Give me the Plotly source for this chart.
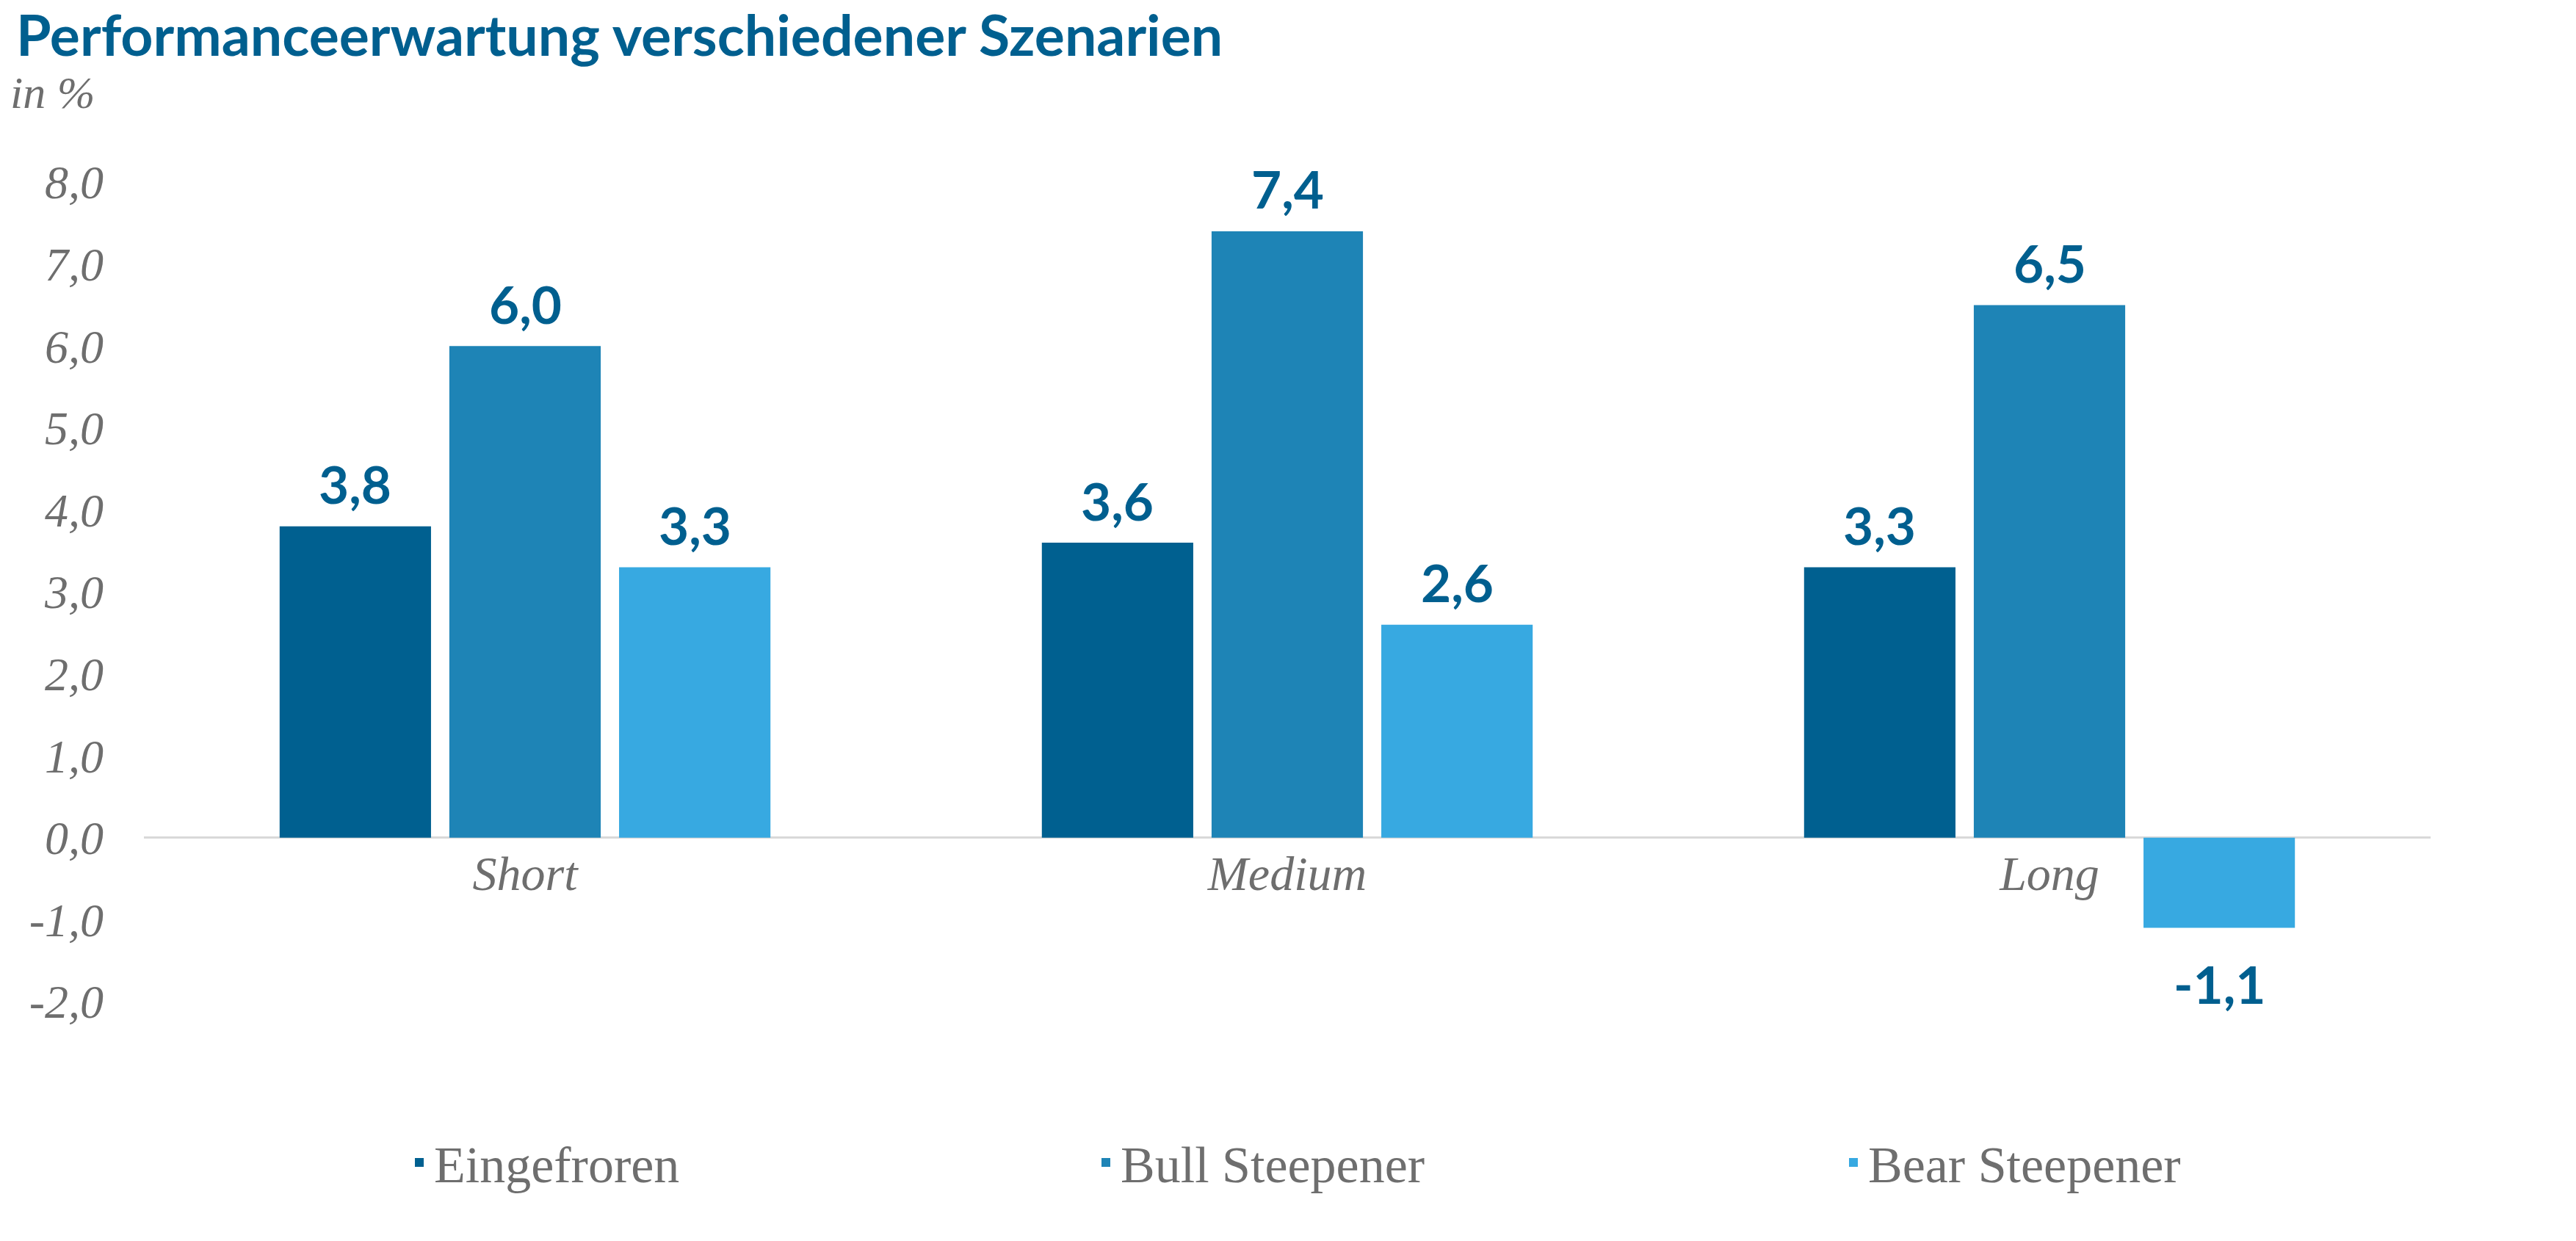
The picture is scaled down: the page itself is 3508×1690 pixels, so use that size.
import plotly.graph_objects as go

categories = ["Short", "Medium", "Long"]
series_names = ["Eingefroren", "Bull Steepener", "Bear Steepener"]
eingefroren = [3.8, 3.6, 3.3]
bull_steepener = [6.0, 7.4, 6.5]
bear_steepener = [3.3, 2.6, -1.1]
series_values = [eingefroren, bull_steepener, bear_steepener]
colors = ["#006090", "#1E84B6", "#37A9E1"]
tick_vals = [-2, -1, 0, 1, 2, 3, 4, 5, 6, 7, 8]
tick_text = ["-2,0", "-1,0", "0,0", "1,0", "2,0", "3,0", "4,0", "5,0", "6,0", "7,0", "8,0"]
title_text = "Performanceerwartung verschiedener Szenarien"
unit_text = "in %"

W, H = 3508, 1690
ML, MR, MT, MB = 188, 206, 240, 334
Y_MIN, Y_MAX = -2, 8
BARGAP = 0.332
PW, PH = W - ML - MR, H - MT - MB

SERIF = "Liberation Serif, DejaVu Serif, serif"
SANS = "Lato, Open Sans, sans-serif"
GRAY = "#6E6E6E"
LABEL_BLUE = "#005F8F"

legend_ids = ["legend", "legend2", "legend3"]
legend_x_px = [543, 1478, 2496]

fig = go.Figure()
for name, vals, col, lg in zip(series_names, series_values, colors, legend_ids):
    fig.add_trace(go.Bar(name=name, x=categories, y=vals, legend=lg,
                         marker=dict(color=col, line=dict(width=0))))

# value labels
slot = (1 - BARGAP) / len(series_values)
annotations = []
for j, vals in enumerate(series_values):
    for i, v in enumerate(vals):
        annotations.append(dict(
            x=i + (j - (len(series_values) - 1) / 2) * slot, y=v, xref="x", yref="y",
            text=f"{v:.1f}".replace(".", ","), showarrow=False,
            yanchor="middle", yshift=58 if v >= 0 else -76,
            font=dict(family=SANS, size=71, color=LABEL_BLUE, weight="bold"),
        ))

# unit label
annotations.append(dict(
    x=(4 - ML) / PW, y=1 + (MT - 118) / PH, xref="paper", yref="paper",
    text=f"<i>{unit_text}</i>", showarrow=False, xanchor="left", yanchor="middle",
    font=dict(family=SERIF, size=62, color=GRAY),
))

legend_common = dict(
    orientation="h", xanchor="left",
    y=-(1575 - (H - MB)) / PH, yanchor="middle",
    font=dict(family=SERIF, size=70, color=GRAY),
    bgcolor="rgba(0,0,0,0)",
)
legend_layouts = {lg: dict(legend_common, x=(xp - ML) / PW) for lg, xp in zip(legend_ids, legend_x_px)}

fig.update_layout(
    width=W, height=H,
    margin=dict(l=ML, r=MR, t=MT, b=MB),
    paper_bgcolor="white", plot_bgcolor="white",
    barmode="group", bargap=BARGAP, bargroupgap=0.108,
    title=dict(
        text=f"<b>{title_text}</b>",
        x=14 / W, xanchor="left", xref="container",
        y=1 - 14 / H, yanchor="top", yref="container",
        font=dict(family=SANS, size=77, color="#005F8F"),
    ),
    xaxis=dict(
        type="category", anchor="free", position=(0 - Y_MIN) / (Y_MAX - Y_MIN),
        showline=False, showgrid=False, ticks="",
        tickfont=dict(family=SERIF, size=66, color=GRAY, style="italic"),
        ticklabelstandoff=4,
    ),
    yaxis=dict(
        range=[Y_MIN, Y_MAX], tickvals=tick_vals, ticktext=tick_text,
        showgrid=False, showline=False, ticks="",
        zeroline=True, zerolinecolor="#D9D9D9", zerolinewidth=3,
        tickfont=dict(family=SERIF, size=64, color=GRAY, style="italic"),
        ticklabelstandoff=54,
    ),
    annotations=annotations,
    showlegend=True,
    **legend_layouts,
)

fig.write_html("out.html")
